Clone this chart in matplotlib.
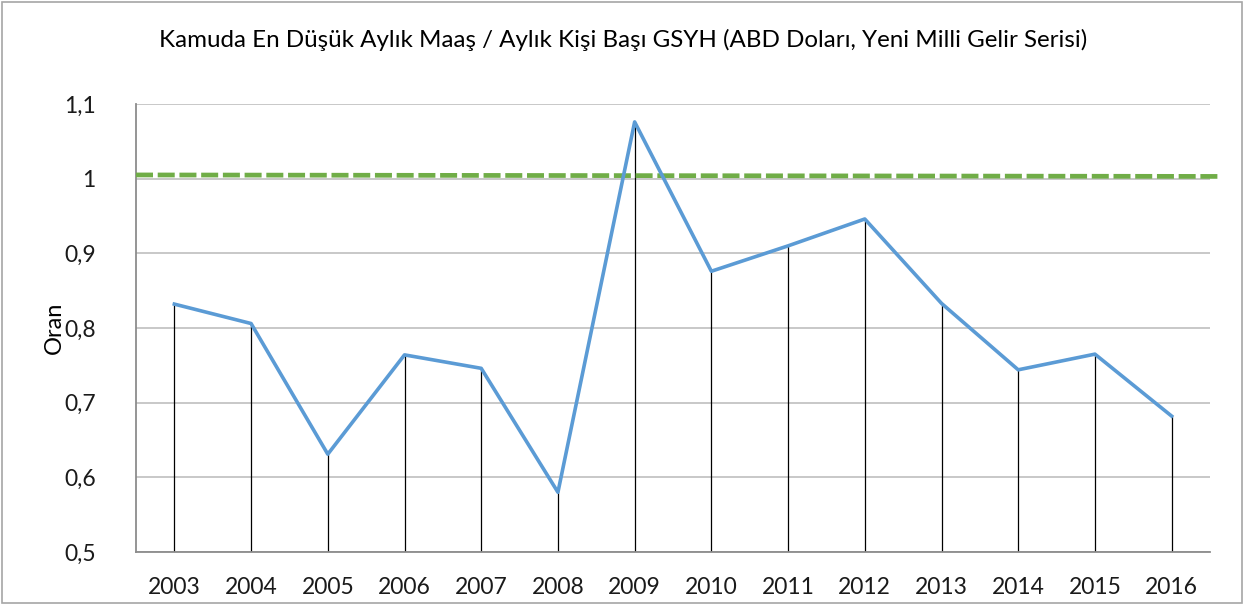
import matplotlib

matplotlib.use("Agg")
import matplotlib.pyplot as plt
from matplotlib.patches import Rectangle

# Data
years = ["2003", "2004", "2005", "2006", "2007", "2008", "2009",
         "2010", "2011", "2012", "2013", "2014", "2015", "2016"]
oran = [0.832, 0.806, 0.631, 0.764, 0.746, 0.580, 1.076,
        0.876, 0.910, 0.946, 0.833, 0.744, 0.765, 0.682]
esik = [1.005, 1.003]  # green reference line, left end -> right end
y_ticks = [0.5, 0.6, 0.7, 0.8, 0.9, 1.0, 1.1]

BLUE = "#5B9BD5"
GREEN = "#70AD47"
GRID = "#BFBFBF"
AXIS = "#8C8C8C"
TEXT = "#1A1A1A"

plt.rcParams["font.family"] = ["Lato", "DejaVu Sans"]

fig = plt.figure(figsize=(12.46, 6.05), dpi=100)
ax = fig.add_axes([136 / 1246, 1 - 552 / 605, (1210 - 136) / 1246, (552 - 104) / 605])

x = list(range(len(years)))
ymin = y_ticks[0]

# drop lines
ax.vlines(x, ymin, oran, color="black", linewidth=0.9, zorder=2)
ax.plot(x, oran, color=BLUE, linewidth=2.6, zorder=4, solid_joinstyle="round")
ax.plot([-0.5, len(years) - 0.5 + 0.1], esik, color=GREEN, linewidth=3.4,
        linestyle=(0, (3.6, 1.0)), zorder=3, clip_on=False)

ax.set_xlim(-0.5, len(years) - 0.5)
ax.set_ylim(y_ticks[0], y_ticks[-1])
ax.set_yticks(y_ticks)
ax.set_yticklabels([f"{v:g}".replace(".", ",") for v in y_ticks])
ax.set_xticks(x)
ax.set_xticklabels(years)
ax.tick_params(axis="both", length=0, labelsize=16.5, colors=TEXT)
ax.tick_params(axis="y", pad=29)
ax.tick_params(axis="x", pad=18)

ax.grid(True, axis="y", color=GRID, linewidth=1.2, zorder=0)
ax.set_axisbelow(True)
for s in ("top", "right"):
    ax.spines[s].set_visible(False)
for s in ("left", "bottom"):
    ax.spines[s].set_color(AXIS)
    ax.spines[s].set_linewidth(1.3)

ax.set_ylabel("Oran", fontsize=17, color="black")
ax.yaxis.set_label_coords(-0.066, 0.5)
fig.text(0.5, 1 - 40 / 605,
         "Kamuda En Düşük Aylık Maaş / Aylık Kişi Başı GSYH (ABD Doları, Yeni Milli Gelir Serisi)",
         ha="center", va="center", fontsize=17.4, color="black")

fig.patches.append(Rectangle((0.002, 0.003), 0.995, 0.994, transform=fig.transFigure,
                             fill=False, edgecolor="#A6A6A6", linewidth=1.2))

fig.savefig("out.png", dpi=100)
